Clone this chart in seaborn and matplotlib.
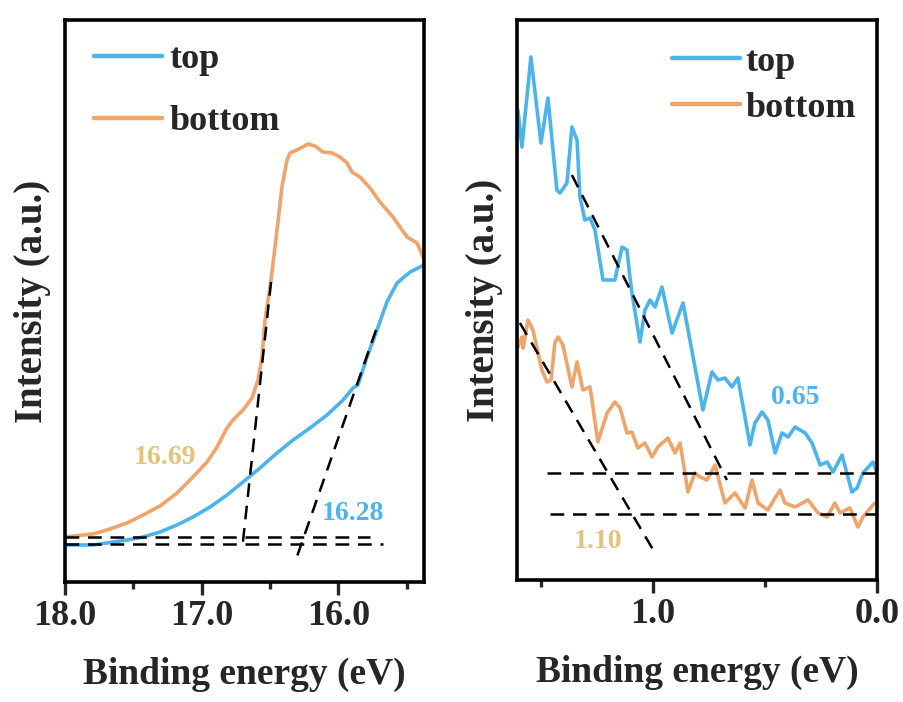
import numpy as np
import pandas as pd
import matplotlib
matplotlib.use("Agg")
import matplotlib.pyplot as plt
import seaborn as sns

# ---------------- data: left panel (cutoff region) ----------------
left_top_x = [18.000, 17.795, 17.546, 17.429, 17.305, 17.181, 17.064, 16.939, 16.815, 16.698,
              16.574, 16.449, 16.332, 16.208, 16.083, 15.966, 15.893, 15.857, 15.791, 15.718,
              15.645, 15.571, 15.476, 15.374]
left_top_y = [37, 37, 42, 45, 50, 57, 65, 75, 87, 100,
              114, 129, 142, 154, 167, 182, 194, 197, 225, 252,
              280, 299, 310, 317]
left_bot_x = [18.000, 17.795, 17.671, 17.546, 17.429, 17.305, 17.181, 17.064, 16.961, 16.888,
              16.815, 16.771, 16.698, 16.632, 16.588, 16.559, 16.537, 16.500, 16.478, 16.449,
              16.413, 16.376, 16.354, 16.303, 16.222, 16.171, 16.113, 16.047, 15.988, 15.937,
              15.901, 15.842, 15.769, 15.696, 15.601, 15.498, 15.425, 15.374]
left_bot_y = [45, 48, 53, 59, 67, 76, 89, 105, 120, 135,
              154, 162, 172, 184, 202, 225, 262, 295, 319, 352,
              395, 422, 429, 432, 438, 436, 430, 429, 425, 419,
              410, 405, 394, 380, 365, 345, 339, 323]

# fit lines (left)
left_bot_base_x = [18.0, 15.769]
left_bot_base_y = [45, 45]
left_top_base_x = [18.0, 15.674]
left_top_base_y = [38, 38]
left_bot_tan_x = [16.493, 16.705]
left_bot_tan_y = [300, 32]
left_top_tan_x = [15.725, 16.317]
left_top_tan_y = [252, 20]

# ---------------- data: right panel (valence band) ----------------
right_top_x = [1.603, 1.585, 1.545, 1.500, 1.469, 1.429, 1.415, 1.384, 1.362, 1.339,
               1.326, 1.304, 1.281, 1.259, 1.223, 1.170, 1.138, 1.116, 1.103, 1.094,
               1.058, 1.036, 1.013, 0.991, 0.960, 0.915, 0.866, 0.777, 0.737, 0.710,
               0.679, 0.647, 0.621, 0.567, 0.545, 0.513, 0.487, 0.455, 0.424, 0.397,
               0.366, 0.321, 0.290, 0.254, 0.223, 0.196, 0.156, 0.112, 0.089, 0.063,
               0.018, 0.0]
right_top_y = [470, 433, 523, 437, 482, 390, 387, 397, 453, 440,
               383, 360, 362, 350, 300, 300, 333, 330, 303, 287,
               238, 270, 280, 273, 293, 247, 277, 170, 208, 200,
               202, 193, 202, 135, 157, 168, 160, 127, 147, 143,
               153, 147, 137, 115, 118, 108, 125, 88, 92, 107,
               118, 107]
right_bot_x = [1.603, 1.585, 1.580, 1.558, 1.536, 1.496, 1.473, 1.455, 1.438, 1.424,
               1.402, 1.362, 1.339, 1.313, 1.281, 1.246, 1.205, 1.170, 1.147, 1.116,
               1.094, 1.067, 1.036, 1.004, 0.978, 0.933, 0.902, 0.879, 0.844, 0.813,
               0.790, 0.759, 0.723, 0.679, 0.634, 0.589, 0.558, 0.531, 0.487, 0.455,
               0.433, 0.411, 0.366, 0.308, 0.263, 0.223, 0.188, 0.165, 0.121, 0.085,
               0.063, 0.018, 0.0]
right_bot_y = [233, 243, 232, 260, 250, 210, 198, 200, 237, 243,
               235, 193, 218, 190, 193, 138, 167, 178, 172, 147,
               148, 132, 137, 123, 133, 142, 127, 137, 88, 107,
               103, 100, 115, 77, 87, 72, 100, 77, 70, 82,
               90, 77, 73, 80, 67, 63, 77, 67, 72, 53,
               63, 75, 78]

# fit lines (right)
right_top_base_x = [1.473, 0.0]
right_top_base_y = [107, 107]
right_bot_base_x = [1.460, 0.0]
right_bot_base_y = [66, 66]
right_top_tan_x = [1.362, 0.670]
right_top_tan_y = [405, 100]
right_bot_tan_x = [1.594, 0.991]
right_bot_tan_y = [257, 27]

series_labels = ["top", "bottom"]
left_ticks = [18.0, 17.0, 16.0]
left_tick_labels = ["18.0", "17.0", "16.0"]
left_minor = [17.5, 16.5, 15.5]
right_ticks = [1.0, 0.0]
right_tick_labels = ["1.0", "0.0"]
right_minor = [1.5, 0.5]

left_annots = [("16.69", 17.268, 125, "gold"), ("16.28", 15.893, 69, "blue")]
right_annots = [("0.65", 0.366, 182, "blue"), ("1.10", 1.246, 38, "gold")]

# ---------------- styling ----------------
BLUE = "#4cb4ec"
ORANGE = "#eea46b"
GOLD = "#e5c27a"
ann_colors = {"blue": BLUE, "gold": GOLD}

sns.set_style("ticks")
plt.rcParams["font.family"] = ["Liberation Serif", "DejaVu Serif"]
plt.rcParams["font.weight"] = "bold"

fig = plt.figure(figsize=(9.04, 7.02), dpi=100)
W, H = 904, 702
axL = fig.add_axes([65 / W, (H - 582) / H, (424 - 65) / W, (582 - 20) / H])
axR = fig.add_axes([517 / W, (H - 580) / H, (877 - 517) / W, (580 - 20) / H])

dash = (0, (5.5, 3.5))


def draw_panel(ax, tx, ty, bx, by, fits, ticks, tlabels, minor, xlim, ylim, annots,
               leg_anchor, leg_spacing, leg_pad):
    df_top = pd.DataFrame({"x": tx, "y": ty})
    df_bot = pd.DataFrame({"x": bx, "y": by})
    sns.lineplot(data=df_top, x="x", y="y", ax=ax, color=BLUE, lw=2.6, sort=False,
                 label=series_labels[0], estimator=None)
    sns.lineplot(data=df_bot, x="x", y="y", ax=ax, color=ORANGE, lw=2.6, sort=False,
                 label=series_labels[1], estimator=None)
    for fx, fy in fits:
        ax.plot(fx, fy, color="black", lw=1.8, linestyle=dash, zorder=3)
    ax.set_xlim(*xlim)
    ax.set_ylim(*ylim)
    ax.set_xticks(ticks)
    ax.set_xticklabels(tlabels, fontsize=26, fontweight="bold")
    ax.set_xticks(minor, minor=True)
    ax.set_yticks([])
    ax.tick_params(axis="x", which="major", direction="out", length=9, width=2.4, pad=4)
    ax.tick_params(axis="x", which="minor", direction="out", length=5, width=2.4)
    for s in ax.spines.values():
        s.set_linewidth(2.6)
        s.set_color("black")
    ax.set_xlabel("Binding energy (eV)", fontsize=27, fontweight="bold", labelpad=17)
    ax.set_ylabel("Intensity (a.u.)", fontsize=28, fontweight="bold", labelpad=10)
    for txt, x, y, c in annots:
        ax.text(x, y, txt, color=ann_colors[c], fontsize=20, fontweight="bold",
                ha="center", va="center")
    leg = ax.legend(loc="upper left", bbox_to_anchor=leg_anchor, frameon=False,
                    fontsize=26, handlelength=1.9, handletextpad=leg_pad,
                    labelspacing=leg_spacing, borderaxespad=0.0)
    for t in leg.get_texts():
        t.set_fontweight("bold")
    for l in leg.get_lines():
        l.set_linewidth(3.2)


draw_panel(axL, left_top_x, left_top_y, left_bot_x, left_bot_y,
           [(left_bot_base_x, left_bot_base_y), (left_top_base_x, left_top_base_y),
            (left_bot_tan_x, left_bot_tan_y), (left_top_tan_x, left_top_tan_y)],
           left_ticks, left_tick_labels, left_minor, (18.0, 15.374), (0, 562),
           left_annots, (0.04, 0.985), 0.8, 0.2)

draw_panel(axR, right_top_x, right_top_y, right_bot_x, right_bot_y,
           [(right_top_base_x, right_top_base_y), (right_bot_base_x, right_bot_base_y),
            (right_top_tan_x, right_top_tan_y), (right_bot_tan_x, right_bot_tan_y)],
           right_ticks, right_tick_labels, right_minor, (1.607, 0.0), (0, 560),
           right_annots, (0.39, 0.98), 0.35, 0.15)

fig.savefig("out.png", dpi=100)
